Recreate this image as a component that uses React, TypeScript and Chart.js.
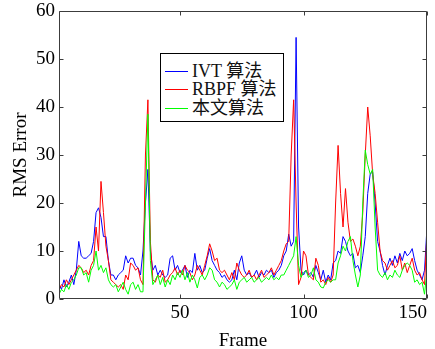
import React, { useEffect, useRef } from 'react';
import { Chart, registerables } from 'chart.js';

Chart.register(...registerables);

// RMS error per frame
const ivt = [
  3, 2, 4, 2.5, 3.5, 5, 3, 6, 12, 9,
  8.5, 8.5, 9, 9.5, 12, 18, 19, 17, 13, 13,
  8, 5, 5, 4, 5, 5.5, 6, 9, 7.5, 8.5,
  8.5, 7, 6.5, 5, 10, 20, 27, 10, 6, 7,
  5, 6, 5, 4.5, 5, 8.5, 9, 6, 7, 5.5,
  6, 7, 4.5, 6, 5.5, 9.5, 6, 7, 5.5, 6,
  8.5, 10.5, 8, 7, 6, 5.5, 4.5, 5, 4, 3.5,
  4, 6, 4, 7.5, 9, 6, 5, 5.5, 4.5, 5,
  6, 4.5, 5.5, 5, 6, 5.5, 6, 4.5, 5.5, 6,
  7, 9, 10, 13.5, 11, 12, 54.5, 15, 6, 5,
  6, 5, 5.5, 4.5, 7, 5.5, 4, 6, 3.5, 5,
  4, 7.5, 8, 10, 9.5, 13, 12, 10, 9, 9.5,
  6.5, 7, 5.5, 9, 13, 22, 26, 26.5, 20, 12,
  10, 7, 5, 7, 8.5, 7, 9, 7.5, 9.5, 8,
  10, 9, 9.5, 10.5, 8, 6, 5, 4, 6, 15,
];

const rbpf = [
  2, 3, 2.5, 4, 3, 4, 5, 6, 7, 6.5,
  5.5, 6, 5, 7, 8, 15, 10, 24.5, 18, 11,
  8, 4, 3.5, 3, 2.5, 3, 2, 5, 4, 7.5,
  7, 6, 6.5, 4, 3, 30, 41.5, 12, 4, 3.5,
  5, 4.5, 6, 3.5, 4, 5, 5.5, 6.5, 5, 6,
  5, 7, 6, 5.5, 4, 5, 7, 6, 5, 7,
  9, 11.5, 10, 8, 8.5, 6, 5.5, 6, 5, 4,
  5.5, 4, 7.5, 6, 5, 4.5, 5, 6, 4.5, 5,
  4, 5, 6, 4.5, 5, 5.5, 6.5, 5, 6, 7,
  8, 10, 11.5, 12, 30, 41.5, 20, 3, 4.5, 10,
  9, 5, 4.5, 4, 8.5, 7, 3.5, 4, 3, 4.5,
  3.5, 5, 20, 32, 22, 15, 23, 16, 12, 12.5,
  11, 9, 11, 18, 30, 40, 34, 26, 22, 16,
  10, 8, 7.5, 6, 7, 8, 6.5, 7, 9, 6,
  7.5, 5.5, 7, 8.5, 6, 5, 5.5, 4, 3, 14,
];

const ours = [
  1, 2, 1.5, 3, 2, 3.5, 4, 5, 6.5, 6.5,
  5, 5.5, 3.5, 6, 7, 10, 6, 7, 5.5, 6.5,
  4, 3, 2.5, 3, 1.5, 2.5, 3.5, 2, 1, 3,
  3.5, 2, 3, 1.5, 1.5, 20, 38.5, 8, 3, 4,
  5, 3, 4.5, 2.5, 4, 3, 5, 4, 5.5, 4.5,
  6, 4, 5.5, 3.5, 5, 4, 2.3, 4.5, 5, 4,
  5, 6.5, 6, 4, 3.5, 2.5, 3.5, 3, 2, 2.5,
  3, 4, 2, 3.5, 4, 4.5, 3.5, 4, 4.5, 3.5,
  4, 4.5, 3.5, 4, 4.5, 4, 5, 4, 4.5, 4,
  5, 5, 6, 7, 8, 9, 13, 7, 4.5, 5.5,
  6, 4.5, 5, 6.5, 4, 3.5, 2.5, 2.3, 3.5, 4,
  3.5, 4, 4, 7.5, 9, 11, 10, 12, 13, 8,
  5, 2.5, 5, 20, 31, 28, 26, 27, 15, 6,
  5, 4.5, 5.5, 4, 5, 4.5, 6, 5, 4.5, 6,
  7, 7.5, 7, 6, 3.5, 4, 3, 3.5, 1, 6,
];

const frames = ivt.map((_, i) => i + 1);
const xTickValues = [1, 50, 100, 150];
const seriesLabels = ['IVT 算法', 'RBPF 算法', '本文算法'];
const seriesColors = ['#0000ff', '#ff0000', '#00ff00'];
const seriesData = [ivt, rbpf, ours];

const FONT = '"Liberation Serif", "Times New Roman", "Noto Sans CJK SC", serif';

const frameBox = {
  id: 'frameBox',
  afterDatasetsDraw(chart: any) {
    const { ctx, chartArea: a, scales } = chart;
    const L = Math.round(a.left) + 0.5;
    const R = Math.round(a.right) - 0.5;
    const T = Math.round(a.top) + 0.5;
    const B = Math.round(a.bottom) - 0.5;
    const t = 4;
    ctx.save();
    ctx.strokeStyle = '#3c3c3c';
    ctx.lineWidth = 1;
    ctx.beginPath();
    ctx.rect(L, T, R - L, B - T);
    scales.x.ticks.forEach((tk: any) => {
      if (tk.value === 1) return;
      const px = Math.round(scales.x.getPixelForValue(tk.value)) + 0.5;
      ctx.moveTo(px, B);
      ctx.lineTo(px, B - t);
      ctx.moveTo(px, T);
      ctx.lineTo(px, T + t);
    });
    scales.y.ticks.forEach((tk: any) => {
      const py = Math.round(scales.y.getPixelForValue(tk.value)) + 0.5;
      ctx.moveTo(L, py);
      ctx.lineTo(L + t, py);
      ctx.moveTo(R, py);
      ctx.lineTo(R - t, py);
    });
    ctx.stroke();
    ctx.restore();
  },
};

export default function App() {
  const ref = useRef<HTMLCanvasElement | null>(null);

  useEffect(() => {
    if (!ref.current) return;
    const order = [2, 1, 0];
    const chart = new Chart(ref.current, {
      type: 'line',
      data: {
        datasets: seriesData.map((arr, k) => ({
          label: seriesLabels[k],
          data: arr.map((v, i) => ({ x: frames[i], y: v })),
          borderColor: seriesColors[k],
          backgroundColor: seriesColors[k],
          borderWidth: 1,
          pointRadius: 0,
          tension: 0,
          fill: false,
          order: order[k],
        })),
      },
      options: {
        animation: false,
        responsive: false,
        events: [],
        layout: { padding: { left: 0, right: 8, top: 11, bottom: 0 } },
        plugins: { legend: { display: false }, tooltip: { enabled: false } },
        scales: {
          x: {
            type: 'linear',
            min: 1,
            max: 150,
            afterBuildTicks: (scale: any) => {
              scale.ticks = xTickValues.map((v) => ({ value: v }));
            },
            afterFit: (scale: any) => {
              scale.height = 50;
              scale.paddingLeft = 0;
              scale.paddingRight = 0;
            },
            grid: { display: false, drawTicks: false },
            border: { display: false },
            ticks: {
              align: 'inner',
              padding: 3,
              color: '#000',
              font: { family: FONT, size: 19 },
              maxRotation: 0,
              autoSkip: false,
              callback: (v: any) => (v === 1 ? '' : String(v)),
            },
            title: {
              display: true,
              text: 'Frame',
              color: '#000',
              font: { family: FONT, size: 19, lineHeight: 0.8 },
              padding: { top: 0, bottom: 0 },
            },
          },
          y: {
            min: 0,
            max: 60,
            afterFit: (scale: any) => {
              scale.width = 59;
              scale.paddingTop = 0;
              scale.paddingBottom = 0;
            },
            grid: { display: false, drawTicks: false },
            border: { display: false },
            ticks: {
              stepSize: 10,
              padding: 4,
              color: '#000',
              font: { family: FONT, size: 19 },
            },
            title: {
              display: true,
              text: 'RMS Error',
              color: '#000',
              font: { family: FONT, size: 19, lineHeight: 1.2 },
              padding: { top: 10, bottom: 0 },
            },
          },
        },
      } as any,
      plugins: [frameBox],
    });
    return () => chart.destroy();
  }, []);

  const rowCenters = [17, 35, 54];

  return (
    <div style={{ position: 'absolute', left: 0, top: 0, width: 435, height: 349, background: '#fff' }}>
      <canvas ref={ref} width={435} height={349} style={{ display: 'block', width: 435, height: 349 }} />
      <div
        style={{
          position: 'absolute',
          left: 160,
          top: 53,
          width: 122,
          height: 67,
          border: '1px solid #000',
          background: '#fff',
          fontFamily: FONT,
          fontSize: 18,
          color: '#111',
        }}
      >
        {seriesLabels.map((lab, k) => (
          <div
            key={lab}
            style={{
              position: 'absolute',
              left: 4,
              top: rowCenters[k] - 10,
              height: 20,
              display: 'flex',
              alignItems: 'center',
              whiteSpace: 'nowrap',
            }}
          >
            <span style={{ display: 'inline-block', width: 23, height: 1, background: seriesColors[k], marginRight: 4 }} />
            <span style={{ lineHeight: '20px' }}>{lab}</span>
          </div>
        ))}
      </div>
    </div>
  );
}
